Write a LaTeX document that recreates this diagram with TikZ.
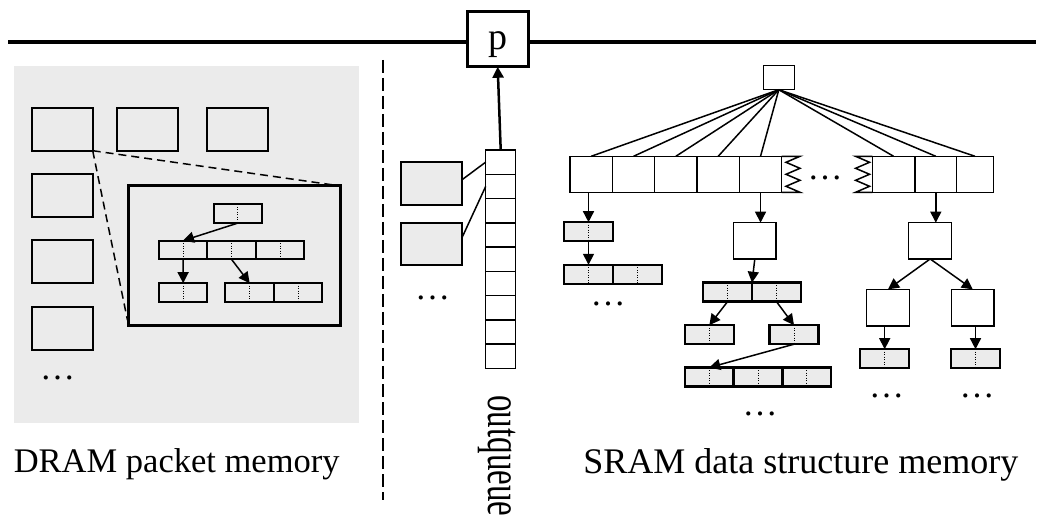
\documentclass[tikz,border=0pt]{standalone}
\usepackage{fontspec}
\setmainfont{Liberation Serif}
\usepackage{graphicx}
\usetikzlibrary{positioning,arrows.meta}
\definecolor{memgray}{HTML}{EBEBEB}

\begin{document}
\begin{tikzpicture}[x=1pt,y=-1pt,
  >={Triangle[length=11pt,width=11pt]},
  every node/.style={inner sep=0pt, outer sep=0pt},
  lbl/.style={font=\fontsize{35}{40}\selectfont},
  dotsl/.style={font=\fontsize{35}{40}\selectfont, anchor=base},
  pktbox/.style={draw, line width=2pt, fill=memgray, minimum width=61pt, minimum height=43pt},
  qcell/.style={draw, line width=1.5pt, fill=white, minimum width=30pt, minimum height=24.26pt},
  cellbox/.style={draw, line width=1.5pt, fill=white, minimum width=42.3pt, minimum height=36pt},
  halfbox/.style={draw, line width=2.5pt, fill=memgray, minimum width=49pt, minimum height=19pt,
    path picture={\draw[line width=1pt, dash pattern=on 1pt off 1.5pt]
      (path picture bounding box.north) -- (path picture bounding box.south);}},
  link/.style={line width=1.5pt},
  ptr/.style={line width=1.5pt, ->},
]
\useasboundingbox (0,0) rectangle (1041,518);

% bus with the port
\node[draw, line width=3pt, fill=white, minimum width=60.7pt, minimum height=55.7pt,
  text height=30pt, text depth=9pt, font=\fontsize{38}{42}\selectfont] (p) at (497.7,38.9) {p};
\coordinate (busL) at (8,41.7);
\coordinate (busR) at (1036,41.7);
\draw[line width=4pt] (busL) -- (busL -| p.west);
\draw[line width=4pt] (p.east |- busR) -- (busR);

% separator
\coordinate (sepT) at (382.7,60);
\coordinate (sepB) at (382.7,500);
\draw[line width=2pt, dash pattern=on 13pt off 5pt] (sepT) -- (sepB);

% DRAM packet memory
\fill[memgray] (14,66) rectangle (359,423);
\node[pktbox] (d1) at (62.2,129.2) {};
\node[pktbox, right=24pt of d1] (d2) {};
\node[pktbox, right=29.3pt of d2] (d3) {};
\node[pktbox, below=23.3pt of d1] (d4) {};
\node[pktbox, below=23.3pt of d4] (d5) {};
\node[pktbox, below=24pt of d5] (d6) {};
\node[dotsl] (ddots) at (57.5,379) {\textellipsis};

\node[draw, line width=3pt, fill=memgray, minimum width=212pt, minimum height=140pt] (zoom) at (234.7,256) {};
\draw[line width=1.5pt, dash pattern=on 8pt off 5pt] (d1.south east) -- (zoom.north east);
\draw[line width=1.5pt, dash pattern=on 8pt off 5pt, shorten >=6pt] (d1.south east) -- (zoom.south west);

\node[halfbox, line width=2pt, minimum width=48.5pt, minimum height=18.6pt] (t0) at (237.8,213.8) {};
\node[halfbox, line width=2pt, minimum width=48.5pt, minimum height=18.6pt] (r1) at (183,250) {};
\node[halfbox, line width=2pt, minimum width=48.5pt, minimum height=18.6pt, right=0pt of r1] (r2) {};
\node[halfbox, line width=2pt, minimum width=48.5pt, minimum height=18.6pt, right=0pt of r2] (r3) {};
\node[halfbox, line width=2pt, minimum width=48.5pt, minimum height=18.6pt] (s1) at (183.2,292.5) {};
\node[halfbox, line width=2pt, minimum width=48.5pt, minimum height=18.6pt] (s2) at (249.7,292.5) {};
\node[halfbox, line width=2pt, minimum width=48.5pt, minimum height=18.6pt, right=0pt of s2] (s3) {};
\draw[ptr] (t0.south) -- (r1.north);
\draw[ptr] (r1.south) -- (s1.north);
\draw[ptr] (r2.south) -- (s2.north);

% outqueue
\foreach \i in {1,...,9}
  \node[qcell] (q\i) at (500.7,{150+24.26*(\i-0.5)}) {};
\draw[line width=2.5pt, ->] (q1.north) -- (p.south);
\node[pktbox, minimum height=42.5pt] (g1) at (431.2,183.5) {};
\node[pktbox, minimum height=42.5pt] (g2) at (431.2,244) {};
\draw[link] ([yshift=3.5pt]g1.east) -- (q1.west);
\draw[link] ([yshift=5.7pt]g2.east) -- (q2.west);
\node[dotsl] (qdots) at (432.5,300) {\textellipsis};
\node[font=\fontsize{33}{38}\selectfont, rotate=-90, anchor=base west] (qlabel) at (488.3,395.5)
  {\scalebox{1}[1.47]{outqueue}};

% SRAM data structures
\node[cellbox, minimum width=31pt, minimum height=24pt] (root) at (778.8,77.7) {};
\foreach \i in {1,...,5}
  \node[cellbox] (a\i) at ({570+42.34*(\i-0.5)},174.3) {};
\node[cellbox, minimum width=42.7pt] (b1) at (893.6,174.3) {};
\node[cellbox, minimum width=41.7pt] (b2) at (935.8,174.3) {};
\node[cellbox, minimum width=36.6pt] (b3) at (975,174.3) {};
\draw[link] (a5.north east) -- ++(18.3,0) -- ++(-14,6) -- ++(14,6) -- ++(-14,6)
  -- ++(14,6) -- ++(-14,6) -- ++(14,6) -- (a5.south east);
\draw[link] (b1.north west) -- ++(-16.7,0) -- ++(14,6) -- ++(-14,6) -- ++(14,6)
  -- ++(-14,6) -- ++(14,6) -- ++(-14,6) -- (b1.south west);
\node[dotsl] (adots) at (825,179.5) {\textellipsis};
\foreach \c in {a1,a2,a3,a4,a5,b1,b2,b3}
  \draw[link] (root.south) -- (\c.north);

% left chain
\node[halfbox] (c1) at (588.5,231.7) {};
\node[halfbox] (c2) at (588.5,274.3) {};
\node[halfbox, right=0pt of c2] (c3) {};
\draw[ptr] (c1.north |- a1.south) -- (c1.north);
\draw[ptr] (c1.south) -- (c2.north);
\node[dotsl] (cdots) at (608,306) {\textellipsis};

% middle tree
\node[cellbox, minimum height=36.3pt] (m1) at (754.8,240.8) {};
\draw[ptr] (a5.south) -- (a5.south |- m1.north);
\node[halfbox] (m2) at (727.5,292.2) {};
\node[halfbox, right=0pt of m2] (m3) {};
\draw[ptr] (m1.south) -- (m2.north east);
\node[halfbox] (m4) at (709.3,334.7) {};
\node[halfbox] (m5) at (794,334.7) {};
\draw[ptr] (m2.south) -- (m4.north);
\draw[ptr] (m3.south) -- (m5.north);
\node[halfbox, minimum width=48.7pt] (m6) at (709.3,377) {};
\node[halfbox, minimum width=48.7pt, right=0pt of m6] (m7) {};
\node[halfbox, minimum width=48.7pt, right=0pt of m7] (m8) {};
\draw[ptr] (m5.south) -- (m6.north);
\node[dotsl] (mdots) at (760,415.5) {\textellipsis};

% right tree
\node[cellbox, minimum width=43pt, minimum height=36.3pt] (n1) at (930.2,240.8) {};
\draw[ptr] (b2.south) -- (b2.south |- n1.north);
\node[cellbox, minimum width=42.6pt, minimum height=36.7pt] (n2) at (888,307.7) {};
\node[cellbox, minimum width=42.6pt, minimum height=36.7pt] (n3) at (972.8,307.7) {};
\draw[ptr] (n1.south) -- (n2.north);
\draw[ptr] (n1.south) -- (n3.north);
\node[halfbox] (n4) at (884.7,358.7) {};
\node[halfbox] (n5) at (975.5,358.7) {};
\draw[ptr] (n4.north |- n2.south) -- (n4.north);
\draw[ptr] (n5.north |- n3.south) -- (n5.north);
\node[dotsl] (ndots4) at (886.7,397.7) {\textellipsis};
\node[dotsl] (ndots5) at (977,397.7) {\textellipsis};

% captions
\node[font=\fontsize{34.5}{40}\selectfont, anchor=base] (dramlabel) at (176.7,472) {DRAM packet memory};
\node[font=\fontsize{36}{40}\selectfont, anchor=base] (sramlabel) at (800.8,473) {SRAM data structure memory};
\end{tikzpicture}
\end{document}
